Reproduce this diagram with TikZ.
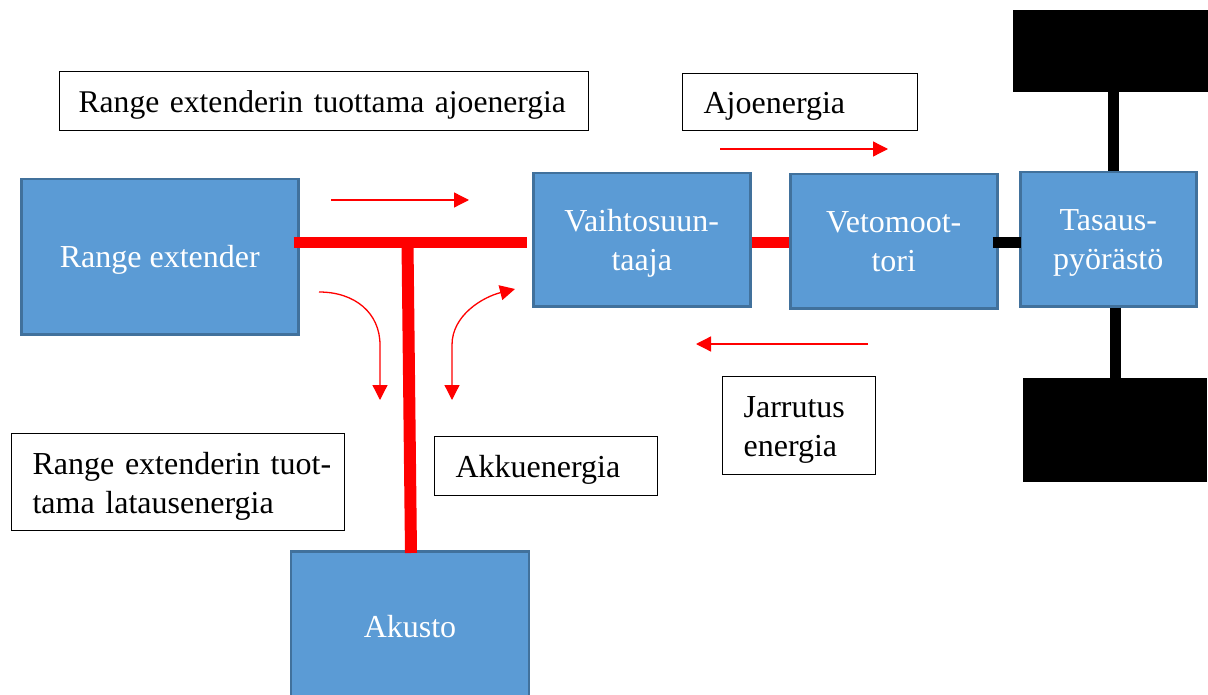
\documentclass[tikz,border=0pt]{standalone}
\usepackage{fontspec}
\setmainfont{Liberation Serif}
\usetikzlibrary{arrows.meta,calc}
\definecolor{boxblue}{HTML}{5B9BD5}
\definecolor{boxedge}{HTML}{41719C}
\newcommand\diagfont{\fontsize{32}{39}\selectfont}
% lower a block of text without changing the space it takes
\newcommand\lowered[2]{\raisebox{-#1}[\height][\depth]{#2}}
\newcommand\twolinesL[2]{\begin{tabular}{@{}l@{}}#1\\#2\end{tabular}}
\newcommand\twolinesC[2]{\begin{tabular}{@{}c@{}}#1\\#2\end{tabular}}
\begin{document}
\begin{tikzpicture}[x=1pt,y=-1pt,
  unit/.style={draw=boxedge, fill=boxblue, line width=2.5pt, text=white, align=center,
    font=\diagfont, anchor=north west, inner sep=0pt},
  note/.style={draw=black, fill=white, line width=1.2pt, align=left, font=\diagfont,
    anchor=north west, inner ysep=0pt},
  wheel/.style={fill=black, anchor=north west, inner sep=0pt},
  bus/.style={draw=red, line width=11pt},
  shaft/.style={draw=black, line width=11pt},
  tip/.tip={Triangle[length=15pt,width=15pt]},
  flow/.style={draw=red, line width=1.3pt, -tip},
  flowboth/.style={draw=red, line width=1.3pt, tip-tip},
]
\useasboundingbox (0,0) rectangle (1208,695);
\fill[white] (0,0) rectangle (1208,695);

% drivetrain units
\node[unit, minimum width=277pt, minimum height=155pt] (re) at (20,178)
  {\lowered{3pt}{Range extender}};
\node[unit, minimum width=217pt, minimum height=133pt] (inv) at (532,172)
  {\lowered{3pt}{\twolinesC{Vaihtosuun-}{taaja}}};
\node[unit, minimum width=207pt, minimum height=134pt] (mot) at (789,173)
  {\lowered{3pt}{\twolinesC{Vetomoot-}{tori}}};
\node[unit, minimum width=176pt, minimum height=134pt] (diff) at (1019,171)
  {\lowered{3pt}{\twolinesC{Tasaus-}{pyörästö}}};
\node[unit, minimum width=238pt, minimum height=150pt, anchor=north] (bat) at (410,550) {Akusto};

% wheels
\node[wheel, minimum width=200pt, minimum height=82pt] (wt) at (1013,10) {};
\node[wheel, minimum width=184pt, minimum height=104pt] (wb) at (1023,378) {};

% labels
\node[note, minimum height=59pt, text width=491pt, inner xsep=19pt,
  font=\fontsize{31.6}{39}\selectfont] (n1) at (59,71)
  {\lowered{4pt}{\mbox{Range extenderin tuottama ajoenergia}}};
\node[note, minimum height=57pt, text width=193pt, inner xsep=21pt] (n2) at (682,73)
  {\lowered{4pt}{Ajoenergia}};
\node[note, minimum height=97pt, text width=291pt, inner xsep=21pt] (n3) at (11,433)
  {\lowered{4pt}{\twolinesL{Range extenderin tuot-}{tama latausenergia}}};
\node[note, minimum height=59pt, text width=181pt, inner xsep=21pt] (n4) at (434,436)
  {\lowered{4pt}{Akkuenergia}};
\node[note, minimum height=98pt, text width=111pt, inner xsep=21pt] (n5) at (722,376)
  {\lowered{4pt}{\twolinesL{Jarrutus}{energia}}};

% electric bus
\coordinate (tee) at (407.5,242.5);
\draw[bus] ($(re.east |- tee)+(-6,0)$) -- ($(inv.west |- tee)+(-5,0)$);
\draw[bus, line width=12pt] (tee) -- ($(bat.north)+(1,3)$);
\draw[bus] ($(inv.east)+(0,3)$) -- ($(inv.east -| mot.west)+(0,3)$);

% mechanical shafts
\draw[shaft] ($(mot.east)+(-6,1.5)$) -- ($(mot.east -| diff.west)+(2,1.5)$);
\draw[shaft] (wt.south) -- (wt.south |- diff.north);
\draw[shaft] (wb.north |- diff.south) -- (wb.north);

% energy flow arrows
\coordinate (f1a) at (331,200); \coordinate (f1b) at (469,200);
\coordinate (f2a) at (720,149); \coordinate (f2b) at (888,149);
\coordinate (f3a) at (868,344); \coordinate (f3b) at (696,344);
\draw[flow] (f1a) -- (f1b);
\draw[flow] (f2a) -- (f2b);
\draw[flow] (f3a) -- (f3b);

\coordinate (c1a) at (319,292); \coordinate (c1m) at (380,345); \coordinate (c1b) at (380,400);
\draw[flow] (c1a) .. controls +(36,0) and +(0,-32) .. (c1m) -- (c1b);

\coordinate (c2b) at (515,289); \coordinate (c2m) at (452,345); \coordinate (c2a) at (452,400);
\draw[flowboth] (c2b) .. controls +(-32,8) and +(0,-30) .. (c2m) -- (c2a);
\end{tikzpicture}
\end{document}
